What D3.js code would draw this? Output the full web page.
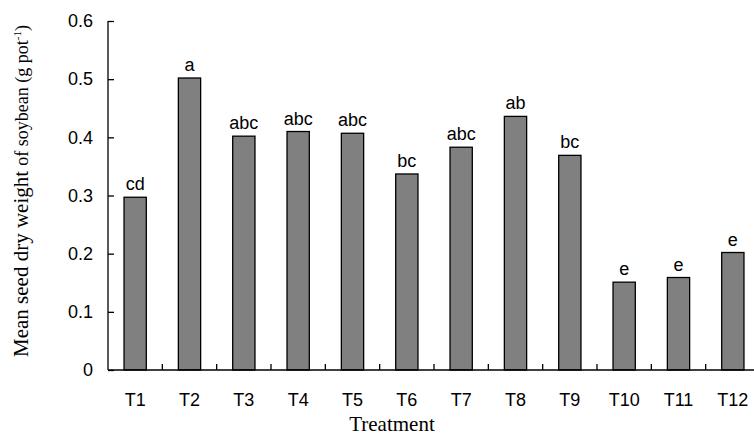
<!DOCTYPE html>
<html>
<head>
<meta charset="utf-8">
<script src="https://cdn.jsdelivr.net/npm/d3@7"></script>
<style>
  body { margin: 0; background: #fff; }
  svg { display: block; }
</style>
</head>
<body>
<svg></svg>
<script>
// data
var treatments = ["T1", "T2", "T3", "T4", "T5", "T6", "T7", "T8", "T9", "T10", "T11", "T12"]
var seedWeight = [0.297, 0.502, 0.402, 0.410, 0.407, 0.337, 0.383, 0.436, 0.369, 0.151, 0.159, 0.202]
var letters = ["cd", "a", "abc", "abc", "abc", "bc", "abc", "ab", "bc", "e", "e", "e"]
var yTicks = [0, 0.1, 0.2, 0.3, 0.4, 0.5, 0.6]

var svg = d3.select("svg")
    .attr("width", 754)
    .attr("height", 437)

var x = d3.scaleBand()
    .domain(treatments)
    .range([108, 760])
    .paddingInner(0.59)
    .paddingOuter(0.295)

var y = d3.scaleLinear()
    .domain([0, 0.6])
    .range([370, 21])

var sans = "'Liberation Sans', Arial, sans-serif"
var serif = "'Liberation Serif', 'Times New Roman', serif"

// bars
svg.selectAll("rect.bar")
    .data(seedWeight)
    .enter()
    .append("rect")
    .attr("class", "bar")
    .attr("x", (d, i) => x(treatments[i]))
    .attr("y", d => y(d))
    .attr("width", x.bandwidth())
    .attr("height", d => y(0) - y(d))
    .attr("fill", "#808080")
    .attr("stroke", "#000")
    .attr("stroke-width", 1.3)

// significance letters
svg.selectAll("text.letter")
    .data(letters)
    .enter()
    .append("text")
    .attr("class", "letter")
    .attr("x", (d, i) => x(treatments[i]) + x.bandwidth() / 2)
    .attr("y", (d, i) => y(seedWeight[i]) - 7)
    .attr("text-anchor", "middle")
    .attr("font-family", sans)
    .attr("font-size", 18)
    .text(d => d)

// y axis (ticks inward)
var yAxis = svg.append("g")
    .attr("transform", "translate(108,0)")
    .call(d3.axisLeft(y).tickValues(yTicks).tickSize(-6).tickPadding(15)
        .tickFormat(d => d === 0 ? "0" : d3.format(".1f")(d)))
yAxis.select(".domain").attr("d", "M0," + y(0.6) + "V" + y(0)).attr("stroke-width", 1.3)
yAxis.selectAll("line").attr("stroke-width", 1.3)
yAxis.selectAll("text").attr("font-family", sans).attr("font-size", 18).attr("fill", "#000")

// x axis: ticks at band boundaries, pointing up
var xAxis = svg.append("g")
    .attr("transform", "translate(0," + y(0) + ")")
xAxis.append("line")
    .attr("x1", 108).attr("x2", 760)
    .attr("stroke", "#000").attr("stroke-width", 1.3)
xAxis.selectAll("line.tick")
    .data(treatments.slice(1))
    .enter()
    .append("line")
    .attr("class", "tick")
    .attr("x1", d => x(d) - x.step() * x.paddingInner() / 2)
    .attr("x2", d => x(d) - x.step() * x.paddingInner() / 2)
    .attr("y1", 0).attr("y2", -6)
    .attr("stroke", "#000").attr("stroke-width", 1.3)
xAxis.selectAll("text")
    .data(treatments)
    .enter()
    .append("text")
    .attr("x", d => x(d) + x.bandwidth() / 2)
    .attr("y", 36)
    .attr("text-anchor", "middle")
    .attr("font-family", sans)
    .attr("font-size", 18)
    .text(d => d)

// axis titles
svg.append("text")
    .attr("x", 392)
    .attr("y", 431)
    .attr("text-anchor", "middle")
    .attr("font-family", serif)
    .attr("font-size", 21)
    .text("Treatment")

var yTitle = svg.append("text")
    .attr("transform", "translate(28,191) rotate(-90)")
    .attr("text-anchor", "middle")
    .attr("font-family", serif)
    .attr("font-size", 21)
yTitle.append("tspan").text("Mean seed dry weight ")
yTitle.append("tspan").attr("font-size", 18).text("of soybean (g pot")
yTitle.append("tspan").attr("font-size", 11).attr("dy", -7).text("-1")
yTitle.append("tspan").attr("font-size", 18).attr("dy", 7).text(")")
</script>
</body>
</html>
